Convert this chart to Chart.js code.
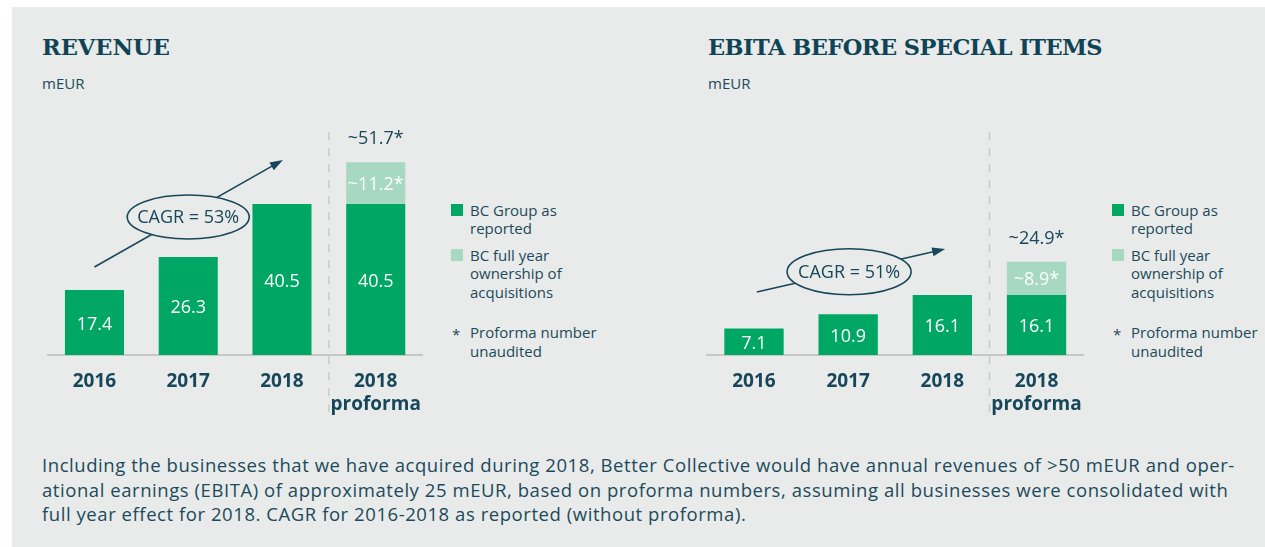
<!DOCTYPE html>
<html>
<head>
<meta charset="utf-8">
<script src="https://cdn.jsdelivr.net/npm/chart.js@4.4.0/dist/chart.umd.min.js"></script>
<style>
  html, body { margin:0; padding:0; background:#fff; }
  body { width:1265px; height:547px; position:relative; overflow:hidden; font-family:"Open Sans", sans-serif; color:#1b4a5b; }
  #panel { position:absolute; left:12px; top:7px; right:0; bottom:0; background:#e9ebea; }
  .title { position:absolute; font-family:"DejaVu Serif", serif; font-weight:bold; font-size:22.5px; line-height:28px; color:#0f4456; white-space:nowrap; }
  .unit { position:absolute; font-size:15px; line-height:20px; white-space:nowrap; }
  .box { position:absolute; top:110px; width:410px; height:320px; }
  .lg { position:absolute; font-size:15px; line-height:18.5px; white-space:nowrap; }
  .sq { position:absolute; width:12px; height:12px; }
  .note { position:absolute; left:42px; top:453px; font-size:18.5px; line-height:24.5px; letter-spacing:0.56px; white-space:nowrap; margin:0; }
</style>
</head>
<body>
<div id="panel"></div>

<div class="title" style="left:42px; top:33px;">REVENUE</div>
<div class="unit" style="left:42px; top:73px;">mEUR</div>
<div class="box" style="left:30px;"><canvas id="revChart"></canvas></div>

<div class="title" style="left:708px; top:33px; letter-spacing:-0.55px;">EBITA BEFORE SPECIAL ITEMS</div>
<div class="unit" style="left:708px; top:73px;">mEUR</div>
<div class="box" style="left:690px;"><canvas id="ebitChart"></canvas></div>

<div id="legends"></div>

<p class="note">Including the businesses that we have acquired during 2018, Better Collective would have annual revenues of &gt;50 mEUR and oper-<br>ational earnings (EBITA) of approximately 25 mEUR, based on proforma numbers, assuming all businesses were consolidated with<br>full year effect for 2018. CAGR for 2016-2018 as reported (without proforma).</p>

<script>
// dados
const anos = ['2016', '2017', '2018', ['2018', 'proforma']];

const receitaReportada = [17.4, 26.3, 40.5, 40.5];
const receitaAquisicoes = [null, null, null, 11.2];
const receitaTotais = [null, null, null, 51.7];
const receitaCagr = 'CAGR = 53%';

const ebitaReportada = [7.1, 10.9, 16.1, 16.1];
const ebitaAquisicoes = [null, null, null, 8.9];
const ebitaTotais = [null, null, null, 24.9];
const ebitaCagr = 'CAGR = 51%';

const legendaTextos = [
  'BC Group as\nreported',
  'BC full year\nownership of\nacquisitions',
  'Proforma number\nunaudited'
];

const VERDE = '#00a764';
const VERDE_CLARO = '#a7d8c1';
const ESCURO = '#17475a';
const FUNDO = '#e9ebea';

// legendas em html
function montarLegenda(left){
  const wrap = document.getElementById('legends');
  const tops = [200.5, 245.5, 323];
  const cores = [VERDE, VERDE_CLARO, null];
  legendaTextos.forEach((t, i) => {
    if (cores[i]) {
      const sq = document.createElement('div');
      sq.className = 'sq';
      sq.style.left = left + 'px';
      sq.style.top = (tops[i] + 3.5) + 'px';
      sq.style.background = cores[i];
      wrap.appendChild(sq);
    } else {
      const st = document.createElement('div');
      st.className = 'lg';
      st.style.left = (left + 1) + 'px';
      st.style.top = (tops[i] + 2) + 'px';
      st.textContent = '*';
      wrap.appendChild(st);
    }
    const d = document.createElement('div');
    d.className = 'lg';
    d.style.left = (left + 19) + 'px';
    d.style.top = tops[i] + 'px';
    d.innerHTML = t.replace(/\n/g, '<br>');
    wrap.appendChild(d);
  });
}
montarLegenda(451);
montarLegenda(1112);

// plugin: rótulos, linha tracejada e anotação CAGR
const anotacoes = {
  id: 'anotacoes',
  afterDatasetsDraw(chart, args, o){
    const {ctx, chartArea} = chart;
    const x = chart.scales.x, y = chart.scales.y;
    ctx.save();

    // linha tracejada entre 2018 e proforma
    const xd = x.getPixelForValue(2.5);
    ctx.strokeStyle = '#c9cbca';
    ctx.lineWidth = 1.5;
    ctx.setLineDash([8, 8]);
    ctx.beginPath();
    ctx.moveTo(xd, chartArea.top + 1);
    ctx.lineTo(xd, chartArea.bottom + 58);
    ctx.stroke();
    ctx.setLineDash([]);

    // valores dentro das barras
    ctx.textAlign = 'center';
    ctx.textBaseline = 'middle';
    ctx.font = '18px "Open Sans"';
    ctx.fillStyle = '#ffffff';
    chart.data.datasets.forEach((ds, di) => {
      chart.getDatasetMeta(di).data.forEach((bar, i) => {
        const v = ds.data[i];
        if (v == null) return;
        const txt = di === 1 ? '~' + v.toFixed(1) + '*' : v.toFixed(1);
        ctx.fillText(txt, bar.x, (bar.y + bar.base) / 2 + 2);
      });
    });

    // total acima da barra proforma
    ctx.fillStyle = ESCURO;
    const topo = chart.getDatasetMeta(1).data;
    o.totais.forEach((t, i) => {
      if (t == null) return;
      ctx.fillText('~' + t.toFixed(1) + '*', topo[i].x, topo[i].y - 23);
    });

    // seta
    const x1 = x.getPixelForValue(o.seta[0]), y1 = y.getPixelForValue(o.seta[1]);
    const x2 = x.getPixelForValue(o.seta[2]), y2 = y.getPixelForValue(o.seta[3]);
    const ang = Math.atan2(y2 - y1, x2 - x1);
    ctx.strokeStyle = ESCURO;
    ctx.lineWidth = 1.6;
    ctx.beginPath();
    ctx.moveTo(x1, y1);
    ctx.lineTo(x2 - 10 * Math.cos(ang), y2 - 10 * Math.sin(ang));
    ctx.stroke();
    ctx.beginPath();
    ctx.moveTo(x2, y2);
    ctx.lineTo(x2 - 13 * Math.cos(ang) + 4.5 * Math.sin(ang), y2 - 13 * Math.sin(ang) - 4.5 * Math.cos(ang));
    ctx.lineTo(x2 - 13 * Math.cos(ang) - 4.5 * Math.sin(ang), y2 - 13 * Math.sin(ang) + 4.5 * Math.cos(ang));
    ctx.closePath();
    ctx.fillStyle = ESCURO;
    ctx.fill();

    // elipse com o texto
    const cx = x.getPixelForValue(o.elipse[0]), cy = y.getPixelForValue(o.elipse[1]);
    ctx.beginPath();
    ctx.ellipse(cx, cy, o.elipse[2], o.elipse[3], 0, 0, Math.PI * 2);
    ctx.fillStyle = FUNDO;
    ctx.fill();
    ctx.stroke();
    ctx.fillStyle = ESCURO;
    ctx.fillText(o.cagr, cx, cy + 1);

    ctx.restore();
  }
};

function desenhar(id, reportada, aquisicoes, totais, cagr, seta, elipse, pad){
  return new Chart(document.getElementById(id), {
    type: 'bar',
    data: {
      labels: anos,
      datasets: [
        { label: 'BC Group as reported', data: reportada, backgroundColor: VERDE },
        { label: 'BC full year ownership of acquisitions', data: aquisicoes, backgroundColor: VERDE_CLARO }
      ]
    },
    options: {
      responsive: true,
      maintainAspectRatio: false,
      animation: false,
      barPercentage: 0.63,
      categoryPercentage: 1,
      layout: { padding: { left: pad[0], right: pad[1], top: 21.2, bottom: 0 } },
      plugins: {
        legend: { display: false },
        tooltip: { enabled: false },
        anotacoes: { totais, cagr, seta, elipse }
      },
      scales: {
        x: {
          stacked: true,
          grid: { display: false, drawTicks: false },
          border: { display: true, color: '#c6c8c7', width: 2 },
          ticks: {
            color: ESCURO, padding: 15, maxRotation: 0, minRotation: 0, autoSkip: false,
            font: { family: 'Open Sans', weight: 'bold', size: 19, lineHeight: 1.2 }
          },
          afterFit: s => { s.height = 75; }
        },
        y: { stacked: true, display: false, min: 0, max: 60 }
      }
    },
    plugins: [anotacoes]
  });
}

desenhar('revChart', receitaReportada, receitaAquisicoes, receitaTotais, receitaCagr,
  [0, 23.6, 2.01, 52.3], [1.0, 37, 61, 22], [17.6, 17.4]);
desenhar('ebitChart', ebitaReportada, ebitaAquisicoes, ebitaTotais, ebitaCagr,
  [0.03, 16.9, 2.03, 28.4], [1.01, 22.3, 62, 23], [16.9, 16.4]);
</script>
</body>
</html>
